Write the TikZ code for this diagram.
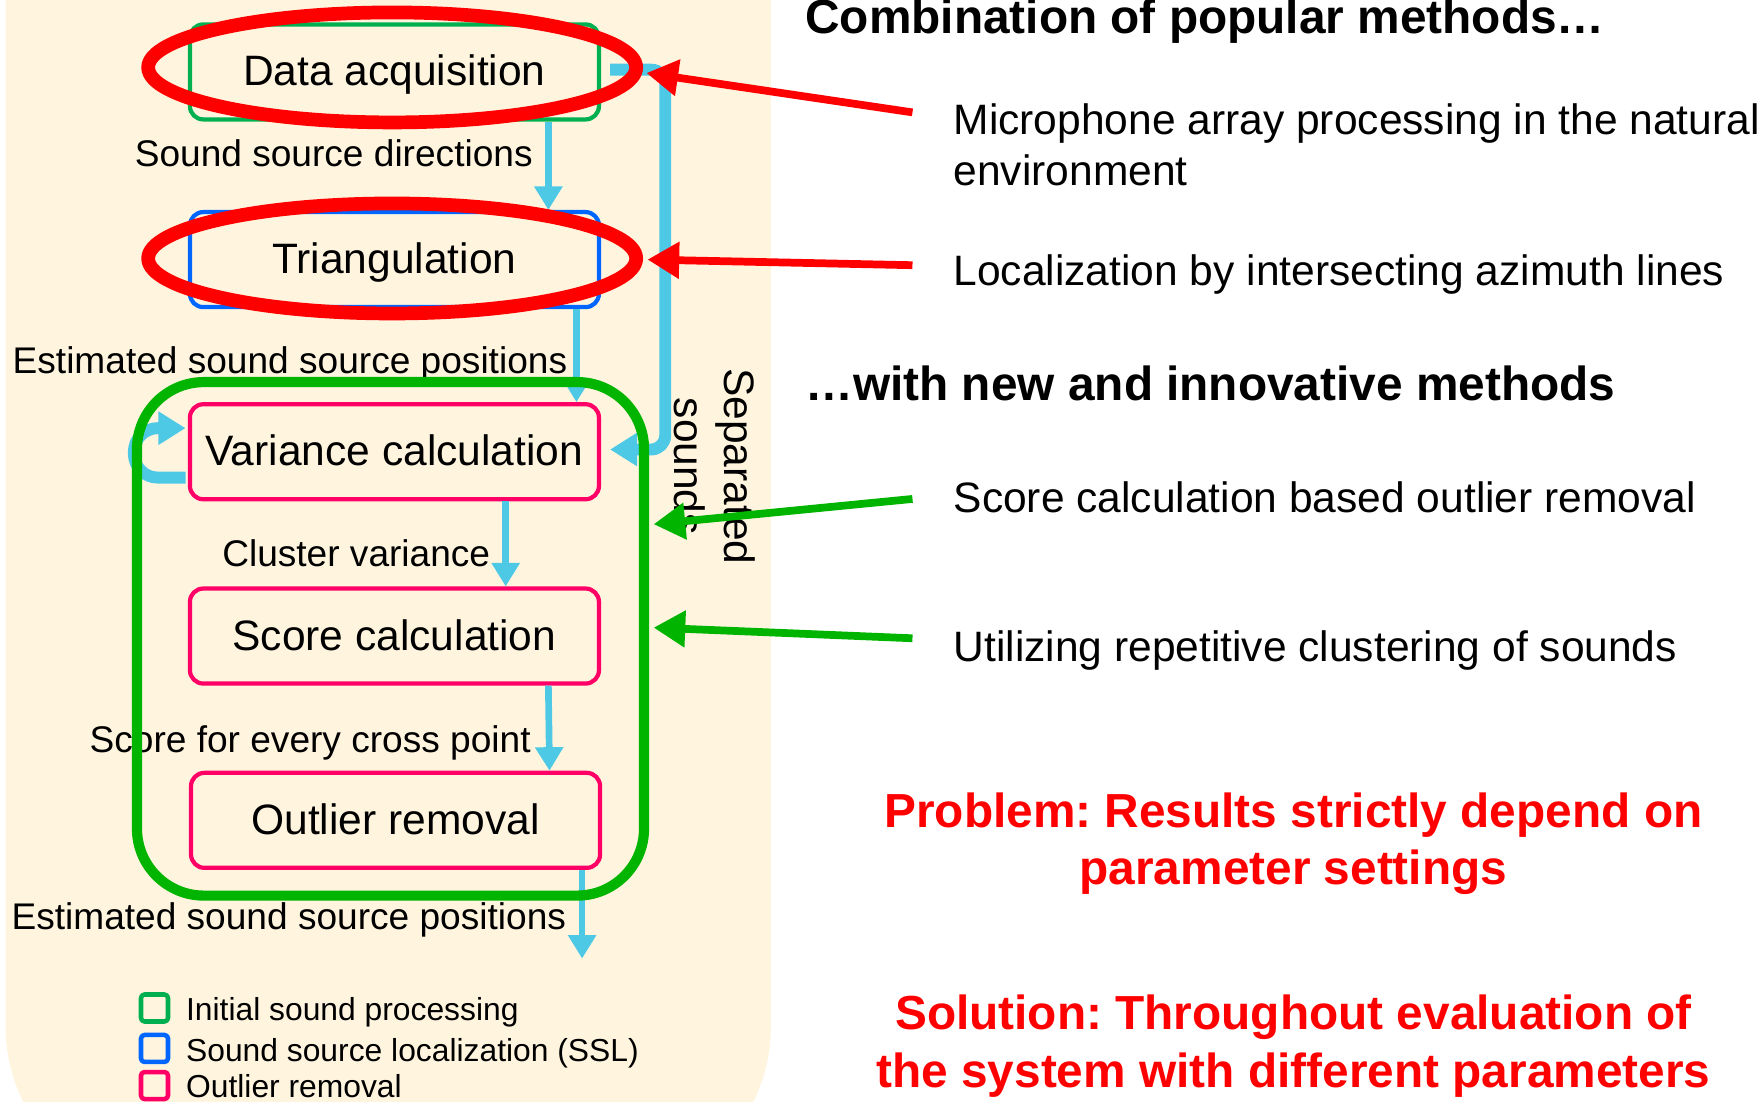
\documentclass[tikz,border=0pt]{standalone}
\usepackage{fontspec}
\setmainfont{Liberation Sans}
\usetikzlibrary{calc,arrows.meta,shapes.geometric}
\frenchspacing

\definecolor{paper}{HTML}{FFF5DF}
\definecolor{initgreen}{HTML}{00B050}
\definecolor{sslblue}{HTML}{0066FF}
\definecolor{outpink}{HTML}{FF0066}
\definecolor{groupgreen}{HTML}{00B400}
\definecolor{flowblue}{HTML}{4DC9E6}

\begin{document}
\begin{tikzpicture}[x=0.11237mm,y=-0.11237mm,line join=round,
  stage/.style={draw,rounded corners=3.8pt,line width=1.2pt,minimum width=4.09cm,minimum height=0.95cm,inner sep=0pt,text height=0.9em,text depth=0.1em,font=\fontsize{12.1}{14.5}\selectfont},
  tag/.style={inner sep=0pt,anchor=base,font=\fontsize{10.55}{12.7}\selectfont},
  note/.style={inner sep=0pt,align=left,font=\fontsize{12.1}{14.5}\selectfont},
  heading/.style={inner sep=0pt,anchor=base west,font=\fontsize{13.6}{16.3}\selectfont\bfseries},
  verdict/.style={inner sep=0pt,align=center,text=red,font=\fontsize{13.6}{16.3}\selectfont\bfseries},
  flow/.style={draw=flowblue,line width=1.9pt,-{Triangle[length=6.7pt,width=7.7pt]}},
  thickflow/.style={draw=flowblue,line width=3.4pt,-{Triangle[length=7.7pt,width=9pt]}},
  ring/.style={ellipse,draw=red,line width=3.9pt,minimum width=4.88cm,minimum height=1.1cm},
  pointer/.style={line width=2.2pt,-{Triangle[length=9pt,width=10pt]}},
  key/.style={draw,rounded corners=1pt,line width=1.3pt,minimum size=0.27cm,inner sep=0pt},
  keytext/.style={inner sep=0pt,anchor=base west,font=\fontsize{9.05}{10.9}\selectfont}]

  \useasboundingbox (0,0) rectangle (1568,980);
  \clip (0,0) rectangle (1568,980);

  % processing panel
  \fill[paper,rounded corners=1.69cm] (5,-200) rectangle (686,1064);

  % processing stages
  \node[stage,draw=initgreen] (DataAcq) at (351,64) {Data acquisition};
  \node[stage,draw=sslblue] (Triang) at (351,231) {Triangulation};
  \node[stage,draw=outpink] (VarCalc) at (351,402) {Variance calculation};
  \node[stage,draw=outpink] (ScoreCalc) at (351,566) {Score calculation};
  \node[stage,draw=outpink] (Outlier) at (352,730) {Outlier removal};

  % data passed between stages
  \node[tag] (dirTag) at (297,148) {Sound source directions};
  \node[tag] (posTag) at (258,332) {Estimated sound source positions};
  \node[tag] (varTag) at (317,504) {Cluster variance};
  \node[tag] (crossTag) at (276,670) {Score for every cross point};
  \node[tag] (finalTag) at (257,827) {Estimated sound source positions};

  \coordinate (outEnd) at (518,853);
  \draw[flow] ($(DataAcq.south)+(137,0)$) -- ($(Triang.north)+(137,0)$);
  \draw[flow] ($(Triang.south)+(162,0)$) -- ($(VarCalc.north)+(162,0)$);
  \draw[flow] ($(VarCalc.south)+(99,0)$) -- ($(ScoreCalc.north)+(99,0)$);
  \draw[flow] ($(ScoreCalc.south)+(137,0)$) -- ($(Outlier.north)+(137,0)$);
  \draw[flow] ($(Outlier.south)+(166,0)$) -- (outEnd);

  % separated sounds go back to the variance step
  \coordinate (sepFrom) at ($(DataAcq.east)+(8,-2)$);
  \coordinate (sepTo) at ($(VarCalc.east)+(8,-2)$);
  \coordinate (sepX) at (592,0);
  \draw[thickflow,rounded corners=4pt] (sepFrom) -- (sepFrom -| sepX) -- (sepTo -| sepX) -- (sepTo);
  \node[note,align=center,rotate=-90] (sepLabel) at (636,415) {Separated\\sounds};

  % repeated clustering
  \draw[thickflow,rounded corners=0.24cm] ($(VarCalc.west)+(-2,23)$) -- ++(-46,0) -- ++(0,-44) -- ++(46,0);

  % outlier removal group and highlighted stages
  \node[draw=groupgreen,line width=2.9pt,rounded corners=0.67cm,minimum width=5.07cm,minimum height=5.135cm] (grpOutlier) at (347.5,568.5) {};
  \node[ring] (ringAcq) at (349,60) {};
  \node[ring] (ringTri) at (349,230) {};

  % legend
  \node[key,draw=initgreen] (keyInit) at (137.5,897) {};
  \node[key,draw=sslblue] (keySSL) at (137.5,933) {};
  \node[key,draw=outpink] (keyOut) at (137.5,966) {};
  \node[keytext] (keyInitText) at (165,908) {Initial sound processing};
  \node[keytext] (keySSLText) at (165,945) {Sound source localization (SSL)};
  \node[keytext] (keyOutText) at (165,977) {Outlier removal};

  % methods
  \node[heading] (popHead) at (716,30) {Combination of popular methods…};
  \node[note,anchor=west] (micNote) at (848,129) {Microphone array processing in the natural\\environment};
  \node[note,anchor=base west] (locNote) at (848,254) {Localization by intersecting azimuth lines};
  \node[heading] (newHead) at (716,356) {…with new and innovative methods};
  \node[note,anchor=base west] (scoreNote) at (848,456) {Score calculation based outlier removal};
  \node[note,anchor=base west] (clusterNote) at (848,589) {Utilizing repetitive clustering of sounds};

  \node[verdict] (problem) at (1151,751) {Problem: Results strictly depend on\\parameter settings};
  \node[verdict] (solution) at (1151,931) {Solution: Throughout evaluation of\\the system with different parameters};

  \coordinate (micTail) at (812,100);
  \coordinate (locTail) at (812,236);
  \coordinate (scoreTail) at (812,444);
  \coordinate (clusterTail) at (812,568);
  \draw[pointer,red] (micTail) -- ($(ringAcq.east)+(3,5)$);
  \draw[pointer,red] (locTail) -- ($(ringTri.east)+(4,1)$);
  \draw[pointer,groupgreen] (scoreTail) -- ($(grpOutlier.east)+(4,-102)$);
  \draw[pointer,groupgreen] (clusterTail) -- ($(grpOutlier.east)+(4,-10)$);
\end{tikzpicture}
\end{document}
